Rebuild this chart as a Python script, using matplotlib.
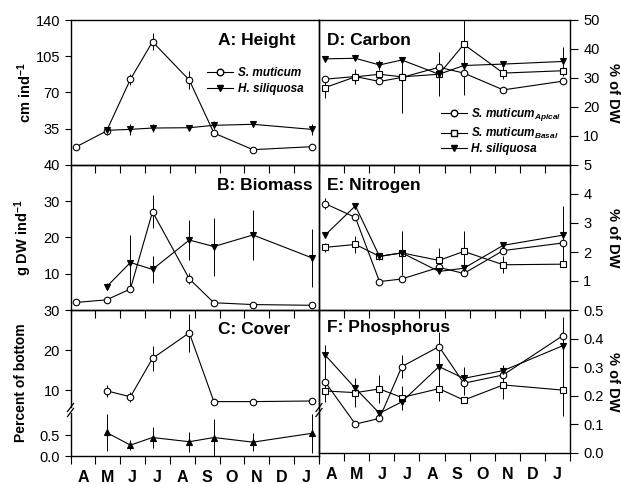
import numpy as np
import matplotlib.pyplot as plt
from matplotlib.lines import Line2D

plt.rcParams['font.family'] = ['Liberation Sans', 'DejaVu Sans']
plt.rcParams['mathtext.fontset'] = 'custom'
plt.rcParams['mathtext.rm'] = 'Liberation Sans:bold'
plt.rcParams['mathtext.bf'] = 'Liberation Sans:bold'
plt.rcParams['mathtext.it'] = 'Liberation Sans:italic:bold'

# =============================================================================
# data
# =============================================================================
months       = ['A', 'M', 'J', 'J', 'A', 'S', 'O', 'N', 'D', 'J']
sample_month = [0.24, 1.45, 2.41, 3.30, 4.78, 5.77, 7.34, 9.71]

# A: height (cm ind-1)
sm_height     = [17.7, 32.8, 82.7, 119.0, 82.0, 30.9, 14.8, 17.7]
sm_height_err = [0, 4, 5, 8, 8.5, 3, 0, 0]
hs_height     = [33.5, 34.4, 35.7, 36.0, 38.3, 39.3, 34.4]
hs_height_err = [3, 5, 4, 2, 4, 3, 5]

# B: biomass (g DW ind-1)
sm_bio     = [2.1, 2.8, 5.8, 27.1, 8.6, 2.0, 1.5, 1.3]
sm_bio_err = [0, 0, 0, 4.5, 1.5, 0, 0, 0]
hs_bio     = [6.4, 13.1, 11.2, 19.3, 17.5, 20.7, 14.4]
hs_bio_err = [1.0, 7.5, 3.7, 5.5, 8.0, 7.0, 8.0]

# C: cover (percent of bottom)
sm_cover     = [9.8, 8.3, 17.9, 24.3, 7.1, 7.1, 7.25]
sm_cover_err = [1.5, 1.3, 3.2, 4.8, 0, 0, 0]
hs_cover     = [0.56, 0.26, 0.44, 0.34, 0.44, 0.33, 0.54]
hs_cover_err = [0.45, 0.12, 0.25, 0.24, 0.44, 0.22, 0.46]

# D: carbon (% of DW)
ap_C     = [29.6, 30.5, 28.8, 30.2, 33.7, 31.7, 25.9, 28.9]
ap_C_err = [0, 2.5, 0, 0, 0, 0, 0, 0]
ba_C     = [26.7, 30.4, 31.3, 30.4, 31.3, 41.6, 31.7, 32.5]
ba_C_err = [3.5, 0, 0, 0, 0, 9.0, 2.0, 0]
hs_C     = [36.6, 36.8, 34.5, 36.2, 31.3, 34.3, 34.8, 35.7]
hs_C_lo  = [0, 0, 1.7, 18.3, 7.5, 10.0, 0, 5.0]
hs_C_hi  = [0, 0, 1.7, 0.4, 7.5, 10.0, 0, 5.0]

# E: nitrogen (% of DW)
ap_N     = [3.67, 3.19, 0.98, 1.07, 1.47, 1.26, 2.05, 2.31]
ap_N_err = [0.2, 0, 0, 0, 0, 0, 0, 0]
ba_N     = [2.16, 2.26, 1.85, 1.97, 1.71, 2.02, 1.56, 1.58]
ba_N_err = [0.15, 0.3, 0, 0.75, 0.42, 0.72, 0.3, 0]
hs_N     = [2.58, 3.59, 1.85, 1.97, 1.33, 1.44, 2.23, 2.58]
hs_N_err = [0, 0, 0.12, 0, 0, 0, 0.12, 1.0]

# F: phosphorus (% of DW)
ap_P     = [0.249, 0.101, 0.121, 0.302, 0.372, 0.244, 0.273, 0.410]
ap_P_err = [0.07, 0, 0, 0.04, 0, 0.04, 0, 0]
ba_P     = [0.217, 0.211, 0.224, 0.194, 0.225, 0.185, 0.238, 0.220]
ba_P_err = [0, 0.05, 0.05, 0.04, 0, 0, 0.05, 0.09]
hs_P     = [0.343, 0.226, 0.139, 0.179, 0.302, 0.261, 0.288, 0.375]
hs_P_err = [0.035, 0, 0, 0.03, 0.12, 0.04, 0.02, 0.1]

# =============================================================================
# layout
# =============================================================================
W, H = 621, 484
fig = plt.figure(figsize=(W / 100, H / 100), dpi=100)

def box(x0, x1, y0, y1):
    # pixel box -> figure fraction
    return [x0 / W, 1 - y1 / H, (x1 - x0) / W, (y1 - y0) / H]

XL0, XL1, XR1 = 70.5, 319, 570
axA  = fig.add_axes(box(XL0, XL1, 20, 165))
axB  = fig.add_axes(box(XL0, XL1, 165, 310))
axCu = fig.add_axes(box(XL0, XL1, 310, 407))
axCl = fig.add_axes(box(XL0, XL1, 413, 456))
axD  = fig.add_axes(box(XL1, XR1, 20, 165))
axE  = fig.add_axes(box(XL1, XR1, 165, 310))
axF  = fig.add_axes(box(XL1, XR1, 310, 453))

tick_fs = 10.5
LW = 0.8

def series(ax, x, y, err, marker, filled, ms=4.7):
    ax.errorbar(x, y, yerr=err, color='k', lw=LW, elinewidth=0.7, capsize=0,
                marker=marker, ms=ms, mec='k', mew=0.8,
                mfc='k' if filled else 'white', zorder=3)

for ax in [axA, axB, axCu, axCl, axD, axE, axF]:
    ax.set_facecolor('none')
    ax.set_xlim(0, 10)
    ax.set_xticks(range(11))
    ax.set_xticklabels([])
    ax.tick_params(axis='x', which='major', direction='out', length=6, width=0.8)
    for s in ax.spines.values():
        s.set_linewidth(1.0)

for ax in [axA, axB, axCu, axCl]:
    ax.tick_params(axis='y', direction='out', length=4, labelsize=tick_fs, width=0.8)
for ax in [axD, axE, axF]:
    ax.yaxis.tick_right()
    ax.tick_params(axis='y', direction='out', length=6, labelsize=tick_fs, width=0.8)

# no bottom ticks on upper cover axis
axCu.tick_params(axis='x', bottom=False)
axCu.spines['bottom'].set_visible(False)
axCl.spines['top'].set_visible(False)

# month labels between ticks
for ax in [axCl, axF]:
    ax.set_xticks(np.arange(10) + 0.5, minor=True)
    ax.set_xticklabels(months, minor=True, fontweight='bold', fontsize=11.5)
    ax.tick_params(axis='x', which='minor', length=0, pad=10)

x_all = sample_month
x_late = sample_month[1:]

# ---- A
series(axA, x_all, sm_height, sm_height_err, 'o', False)
series(axA, x_late, hs_height, hs_height_err, 'v', True)
axA.set_ylim(0, 140)
axA.set_yticks([35, 70, 105, 140])
axA.set_ylabel(r'cm ind$^{-1}$', fontweight='bold', fontsize=10.5)
axA.yaxis.set_label_coords(-0.145, 0.5)
axA.text(0.905, 0.86, 'A: Height', transform=axA.transAxes, ha='right', va='center',
         fontsize=12.5, fontweight='bold')
hA = [Line2D([], [], color='k', lw=LW, marker='o', mfc='white', mec='k', ms=4.7),
      Line2D([], [], color='k', lw=LW, marker='v', mfc='k', mec='k', ms=4.7)]
axA.legend(hA, ['S. muticum', 'H. siliquosa'], loc='upper left', bbox_to_anchor=(0.55, 0.675),
           frameon=False, borderpad=0, borderaxespad=0, handlelength=2.2, handletextpad=0.4,
           labelspacing=0.35, prop={'style': 'italic', 'weight': 'bold', 'size': 8.5})

# ---- B
series(axB, x_all, sm_bio, sm_bio_err, 'o', False)
series(axB, x_late, hs_bio, hs_bio_err, 'v', True)
axB.set_ylim(0, 40)
axB.set_yticks([10, 20, 30, 40])
axB.set_ylabel(r'g DW ind$^{-1}$', fontweight='bold', fontsize=10.5)
axB.yaxis.set_label_coords(-0.145, 0.5)
axB.text(0.975, 0.86, 'B: Biomass', transform=axB.transAxes, ha='right', va='center',
         fontsize=12.5, fontweight='bold')

# ---- C (broken axis)
series(axCu, x_late, sm_cover, sm_cover_err, 'o', False)
series(axCl, x_late, hs_cover, hs_cover_err, '^', True, ms=4)
axCu.set_ylim(5.75, 30)
axCu.set_yticks([10, 20, 30])
axCl.set_ylim(0, 1.024)
axCl.set_yticks([0, 0.5])
axCl.set_yticklabels(['0.0', '0.5'])
axCu.text(0.885, 0.80, 'C: Cover', transform=axCu.transAxes, ha='right', va='center',
          fontsize=12.5, fontweight='bold')
fig.text(21 / W, 1 - 383 / H, 'Percent of bottom', rotation=90, ha='center', va='center',
         fontweight='bold', fontsize=10)

def px(x, y):
    return x / W, 1 - y / H

for xb in [XL0, XL1]:
    for dy in [-2.5, 2.5]:
        (x0, y0), (x1, y1) = px(xb - 3, 410 + dy + 4), px(xb + 3, 410 + dy - 4)
        fig.add_artist(Line2D([x0, x1], [y0, y1], color='k', lw=0.9, transform=fig.transFigure))

# ---- D
series(axD, x_all, ap_C, ap_C_err, 'o', False)
series(axD, x_all, ba_C, ba_C_err, 's', False, ms=4.4)
series(axD, x_all, hs_C, [hs_C_lo, hs_C_hi], 'v', True)
axD.set_ylim(0, 50)
axD.set_yticks([10, 20, 30, 40, 50])
axD.text(0.032, 0.86, 'D: Carbon', transform=axD.transAxes, ha='left', va='center',
         fontsize=12.5, fontweight='bold')
hD = [Line2D([], [], color='k', lw=LW, marker='o', mfc='white', mec='k', ms=4.7),
      Line2D([], [], color='k', lw=LW, marker='s', mfc='white', mec='k', ms=4.4),
      Line2D([], [], color='k', lw=LW, marker='v', mfc='k', mec='k', ms=4.7)]
axD.legend(hD, [r'S. muticum$_{Apical}$', r'S. muticum$_{Basal}$', 'H. siliquosa'],
           loc='upper left', bbox_to_anchor=(0.485, 0.405), frameon=False, borderpad=0,
           borderaxespad=0, handlelength=2.2, handletextpad=0.4, labelspacing=0.2,
           prop={'style': 'italic', 'weight': 'bold', 'size': 8.5})

# ---- E
series(axE, x_all, ap_N, ap_N_err, 'o', False)
series(axE, x_all, ba_N, ba_N_err, 's', False, ms=4.4)
series(axE, x_all, hs_N, hs_N_err, 'v', True)
axE.set_ylim(0, 5)
axE.set_yticks([1, 2, 3, 4, 5])
axE.text(0.032, 0.86, 'E: Nitrogen', transform=axE.transAxes, ha='left', va='center',
         fontsize=12.5, fontweight='bold')

# ---- F
series(axF, x_all, ap_P, ap_P_err, 'o', False)
series(axF, x_all, ba_P, ba_P_err, 's', False, ms=4.4)
series(axF, x_all, hs_P, hs_P_err, 'v', True)
axF.set_ylim(0, 0.5)
axF.set_yticks([0, 0.1, 0.2, 0.3, 0.4, 0.5])
axF.set_yticklabels(['0.0', '0.1', '0.2', '0.3', '0.4', '0.5'])
axF.text(0.032, 0.875, 'F: Phosphorus', transform=axF.transAxes, ha='left', va='center',
         fontsize=12.5, fontweight='bold')

for ax in [axD, axE, axF]:
    ax.text(1.17, 0.5, '% of DW', transform=ax.transAxes, rotation=270, ha='center',
            va='center', fontweight='bold', fontsize=10.5)

fig.savefig('out.png', dpi=100)
